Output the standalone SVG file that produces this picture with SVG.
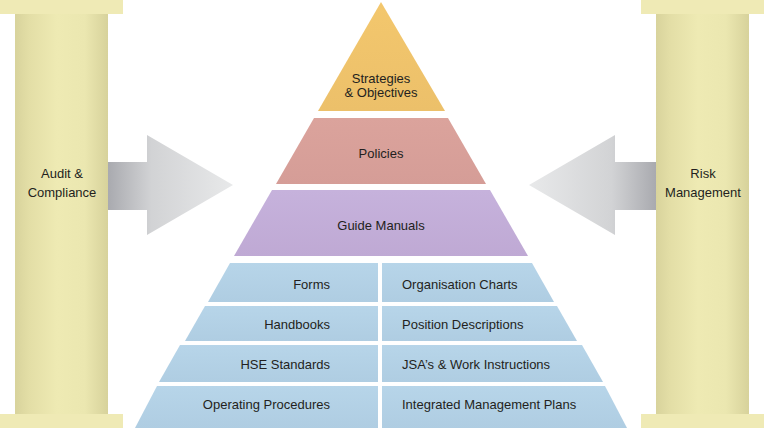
<svg xmlns="http://www.w3.org/2000/svg" width="764" height="428" viewBox="0 0 764 428">
<defs>
<linearGradient id="pillar" x1="0" y1="0" x2="1" y2="0">
<stop offset="0" stop-color="#d8d39c"/>
<stop offset="0.15" stop-color="#e3dea6"/>
<stop offset="0.45" stop-color="#eeeab3"/>
<stop offset="0.75" stop-color="#ebe7b0"/>
<stop offset="1" stop-color="#d7d29b"/>
</linearGradient>
<linearGradient id="arrowL" x1="108" y1="0" x2="233" y2="0" gradientUnits="userSpaceOnUse">
<stop offset="0" stop-color="#a9aaaf"/>
<stop offset="0.35" stop-color="#d2d3d5"/>
<stop offset="1" stop-color="#e8e9ea"/>
</linearGradient>
<linearGradient id="arrowR" x1="656" y1="0" x2="529" y2="0" gradientUnits="userSpaceOnUse">
<stop offset="0" stop-color="#a9aaaf"/>
<stop offset="0.35" stop-color="#d2d3d5"/>
<stop offset="1" stop-color="#e8e9ea"/>
</linearGradient>
<linearGradient id="gold" x1="0" y1="0" x2="0" y2="1">
<stop offset="0" stop-color="#f3c76d"/>
<stop offset="1" stop-color="#ecc06a"/>
</linearGradient>
<linearGradient id="pink" x1="0" y1="0" x2="0" y2="1">
<stop offset="0" stop-color="#dba39c"/>
<stop offset="1" stop-color="#d59d97"/>
</linearGradient>
<linearGradient id="purple" x1="0" y1="0" x2="0" y2="1">
<stop offset="0" stop-color="#c6b2dc"/>
<stop offset="1" stop-color="#bfa9d4"/>
</linearGradient>
<linearGradient id="blue" x1="0" y1="0" x2="0" y2="1">
<stop offset="0" stop-color="#b7d5e9"/>
<stop offset="1" stop-color="#afcde2"/>
</linearGradient>
</defs>
<style>
text{font-family:"Liberation Sans",Arial,sans-serif;font-size:13px;fill:#231f20}
.c{text-anchor:middle}
.r{text-anchor:end}
.cap{fill:#efeab5}
.col{fill:url(#pillar)}
.blue{fill:url(#blue)}
</style>
<rect width="764" height="428" fill="#ffffff"/>

<g id="pillar-left">
<rect class="col" x="15" y="14" width="93" height="400"/>
<rect class="cap" x="0" y="0" width="123" height="14"/>
<rect class="cap" x="0" y="414" width="123" height="14"/>
<text class="c" x="62" y="178">Audit &amp;</text>
<text class="c" x="62" y="197">Compliance</text>
</g>

<g id="pillar-right">
<rect class="col" x="656" y="14" width="93" height="400"/>
<rect class="cap" x="641" y="0" width="123" height="14"/>
<rect class="cap" x="641" y="414" width="123" height="14"/>
<text class="c" x="703" y="178">Risk</text>
<text class="c" x="703" y="197">Management</text>
</g>

<g id="connectors">
<polygon fill="url(#arrowL)" points="108,162 147,162 147,135 233,185 147,235 147,210 108,210"/>
<polygon fill="url(#arrowR)" points="656,162 615,162 615,135 529,185 615,235 615,210 656,210"/>
</g>

<g id="strategies">
<polygon fill="url(#gold)" points="381,2 318,111 445,111"/>
<text class="c" x="381" y="83">Strategies</text>
<text class="c" x="381" y="97">&amp; Objectives</text>
</g>

<g id="policies">
<polygon fill="url(#pink)" points="314,118 448,118 486,184 276,184"/>
<text class="c" x="381" y="158">Policies</text>
</g>

<g id="guide-manuals">
<polygon fill="url(#purple)" points="272,190 490,190 528,256 234,256"/>
<text class="c" x="381" y="230">Guide Manuals</text>
</g>

<g id="forms">
<polygon class="blue" points="230,263 378,263 378,302 208,302"/>
<text class="r" x="330" y="289">Forms</text>
</g>
<g id="organisation-charts">
<polygon class="blue" points="382,263 532,263 554,302 382,302"/>
<text x="402" y="289">Organisation Charts</text>
</g>

<g id="handbooks">
<polygon class="blue" points="205,306 378,306 378,341 185,341"/>
<text class="r" x="330" y="329">Handbooks</text>
</g>
<g id="position-descriptions">
<polygon class="blue" points="382,306 557,306 577,341 382,341"/>
<text x="402" y="329">Position Descriptions</text>
</g>

<g id="hse-standards">
<polygon class="blue" points="180,345 378,345 378,382 159,382"/>
<text class="r" x="330" y="369">HSE Standards</text>
</g>
<g id="jsas">
<polygon class="blue" points="382,345 582,345 603,382 382,382"/>
<text x="402" y="369">JSA’s &amp; Work Instructions</text>
</g>

<g id="operating-procedures">
<polygon class="blue" points="157,386 378,386 378,428 135,428"/>
<text class="r" x="330" y="409">Operating Procedures</text>
</g>
<g id="integrated-management-plans">
<polygon class="blue" points="382,386 605,386 627,428 382,428"/>
<text x="402" y="409">Integrated Management Plans</text>
</g>
</svg>
